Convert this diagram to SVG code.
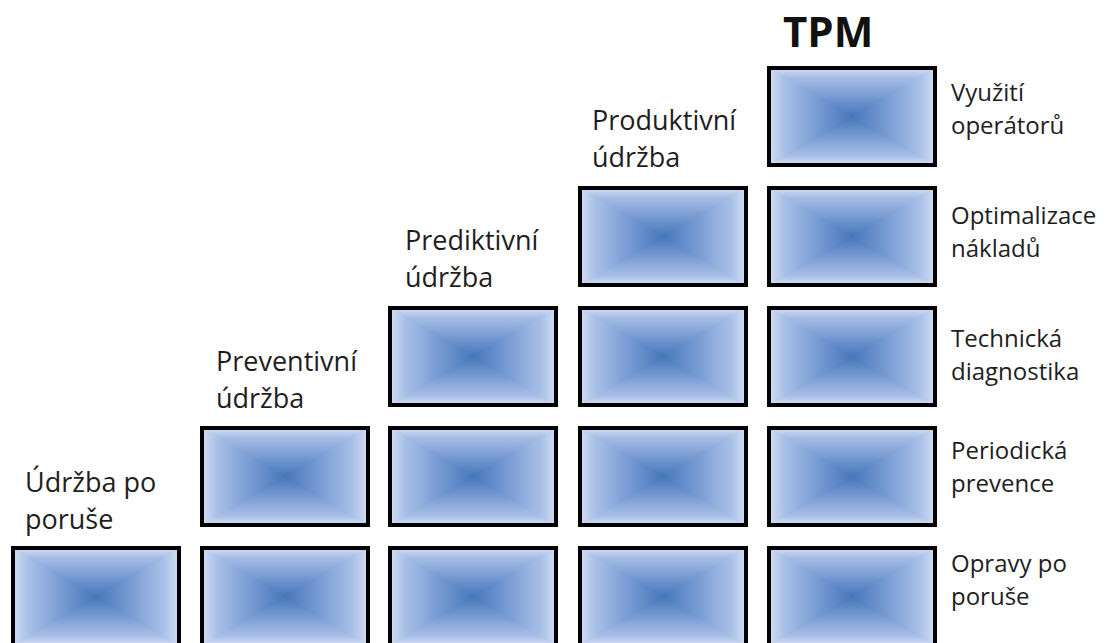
<svg xmlns="http://www.w3.org/2000/svg" xmlns:xlink="http://www.w3.org/1999/xlink" width="1107" height="643" viewBox="0 0 1107 643">
  <style>
    .lbl { font-family: "Open Sans", "Noto Sans", sans-serif; font-size: 27px; fill: #1e1e1e; }
    .rl { font-family: "Open Sans", "Noto Sans", sans-serif; font-size: 24px; fill: #1e1e1e; }
    .title { font-family: "Open Sans", "Noto Sans", sans-serif; font-size: 42px; font-weight: bold; fill: #111; }
    .frame { fill: none; stroke: #000; stroke-width: 4; }
    .tri { stroke-width: 1.2; stroke-linejoin: round; }
  </style>
  <defs>
    <linearGradient id="gT" x1="0" y1="0" x2="0" y2="1">
      <stop offset="0" stop-color="#d3def4"/>
      <stop offset="0.18" stop-color="#a9c0e7"/>
      <stop offset="0.55" stop-color="#7c9ed5"/>
      <stop offset="1" stop-color="#4677ba"/>
    </linearGradient>
    <linearGradient id="gB" xlink:href="#gT" x1="0" y1="1" x2="0" y2="0"/>
    <linearGradient id="gL" xlink:href="#gT" x1="0" y1="0" x2="1" y2="0"/>
    <linearGradient id="gR" xlink:href="#gT" x1="1" y1="0" x2="0" y2="0"/>
    <symbol id="cell" viewBox="0 0 170 101" width="170" height="101">
      <rect x="2" y="2" width="166" height="97" fill="#8fabdc"/>
      <polygon class="tri" points="2,2 168,2 85,50.5" fill="url(#gT)" stroke="url(#gT)"/>
      <polygon class="tri" points="2,99 168,99 85,50.5" fill="url(#gB)" stroke="url(#gB)"/>
      <polygon class="tri" points="2,2 2,99 85,50.5" fill="url(#gL)" stroke="url(#gL)"/>
      <polygon class="tri" points="168,2 168,99 85,50.5" fill="url(#gR)" stroke="url(#gR)"/>
      <rect class="frame" x="2" y="2" width="166" height="97"/>
    </symbol>
  </defs>
  <rect width="1107" height="643" fill="#fff"/>

  <g id="connectors"/>

  <!-- Column 1: Údržba po poruše -->
  <g id="col1">
    <text class="lbl" x="25" y="492">Údržba po</text>
    <text class="lbl" x="25" y="529">poruše</text>
    <g id="c1r1"><use xlink:href="#cell" x="11" y="546"/></g>
  </g>

  <!-- Column 2: Preventivní údržba -->
  <g id="col2">
    <text class="lbl" x="216" y="371">Preventivní</text>
    <text class="lbl" x="216" y="408">údržba</text>
    <g id="c2r2"><use xlink:href="#cell" x="200" y="426"/></g>
    <g id="c2r1"><use xlink:href="#cell" x="200" y="546"/></g>
  </g>

  <!-- Column 3: Prediktivní údržba -->
  <g id="col3">
    <text class="lbl" x="405" y="250">Prediktivní</text>
    <text class="lbl" x="405" y="287">údržba</text>
    <g id="c3r3"><use xlink:href="#cell" x="388" y="306"/></g>
    <g id="c3r2"><use xlink:href="#cell" x="388" y="426"/></g>
    <g id="c3r1"><use xlink:href="#cell" x="388" y="546"/></g>
  </g>

  <!-- Column 4: Produktivní údržba -->
  <g id="col4">
    <text class="lbl" x="592" y="130">Produktivní</text>
    <text class="lbl" x="592" y="167">údržba</text>
    <g id="c4r4"><use xlink:href="#cell" x="578" y="186"/></g>
    <g id="c4r3"><use xlink:href="#cell" x="578" y="306"/></g>
    <g id="c4r2"><use xlink:href="#cell" x="578" y="426"/></g>
    <g id="c4r1"><use xlink:href="#cell" x="578" y="546"/></g>
  </g>

  <!-- Column 5: TPM -->
  <g id="col5">
    <text class="title" x="783" y="47">TPM</text>
    <g id="c5r5"><use xlink:href="#cell" x="767" y="66"/></g>
    <g id="c5r4"><use xlink:href="#cell" x="767" y="186"/></g>
    <g id="c5r3"><use xlink:href="#cell" x="767" y="306"/></g>
    <g id="c5r2"><use xlink:href="#cell" x="767" y="426"/></g>
    <g id="c5r1"><use xlink:href="#cell" x="767" y="546"/></g>
  </g>

  <!-- Right-side labels -->
  <g id="right-labels">
    <text class="rl" x="951" y="101">Využití</text>
    <text class="rl" x="951" y="134">operátorů</text>
    <text class="rl" x="951" y="224">Optimalizace</text>
    <text class="rl" x="951" y="257">nákladů</text>
    <text class="rl" x="951" y="347">Technická</text>
    <text class="rl" x="951" y="380">diagnostika</text>
    <text class="rl" x="951" y="459">Periodická</text>
    <text class="rl" x="951" y="492">prevence</text>
    <text class="rl" x="951" y="572">Opravy po</text>
    <text class="rl" x="951" y="605">poruše</text>
  </g>
</svg>
